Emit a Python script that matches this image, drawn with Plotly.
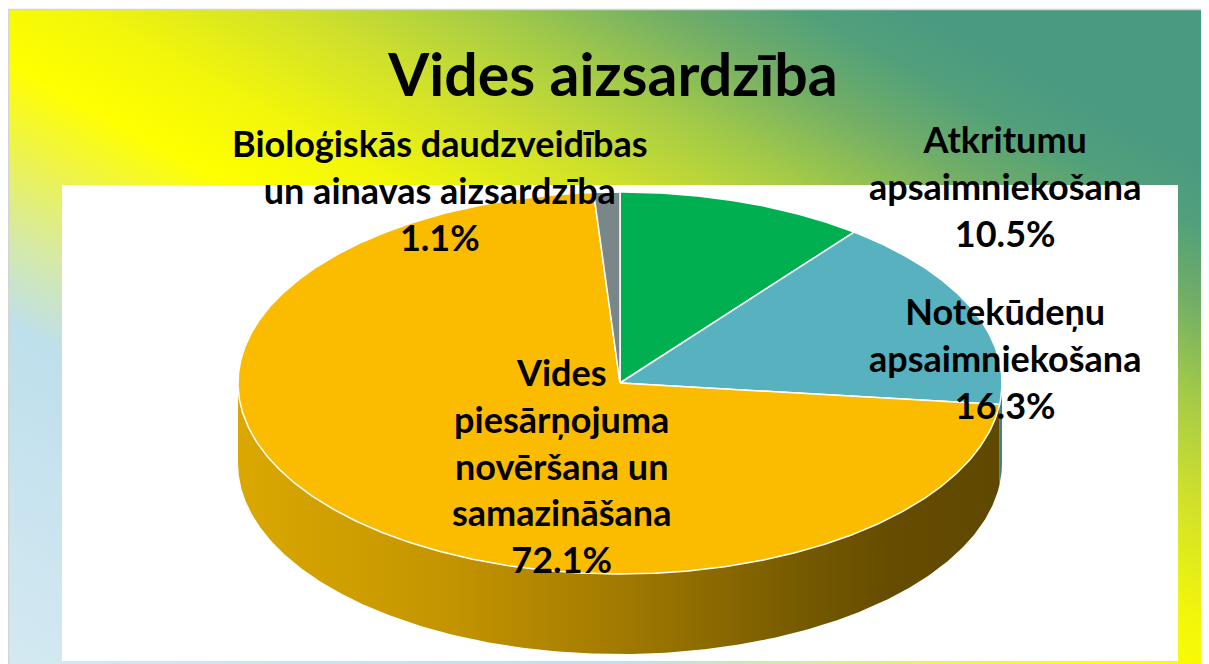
import base64
import numpy as np
import plotly.graph_objects as go

# ---------------- data ----------------
categories = [
    "Atkritumu apsaimniekošana",
    "Notekūdeņu apsaimniekošana",
    "Vides piesārņojuma novēršana un samazināšana",
    "Bioloģiskās daudzveidības un ainavas aizsardzība",
]
label_lines = [
    "Atkritumu<br>apsaimniekošana",
    "Notekūdeņu<br>apsaimniekošana",
    "Vides<br>piesārņojuma<br>novēršana un<br>samazināšana",
    "Bioloģiskās daudzveidības<br>un ainavas aizsardzība",
]
values = [10.5, 16.3, 72.1, 1.1]
title_text = "Vides aizsardzība"

# ---------------- style ----------------
top_colors = ["#00B050", "#57B1BE", "#FBBC00", "#7A8789"]
side_scales = [
    [[0, "#007A38"], [1, "#004F24"]],
    [[0, "#4F9AA4"], [1, "#3E7F88"]],
    [[0, "#DBA800"], [0.28, "#C39400"], [0.5, "#A27A00"],
     [0.7, "#7C5F00"], [0.85, "#664C00"], [1, "#5F4800"]],
    [[0, "#6A7678"], [1, "#505A5C"]],
]
label_pos = [(1005, 186), (1005, 358), (561, 465), (440, 190)]
FONT = "Lato"

OFF = 8                      # page offset of the figure (body margin)
W, H = 1201, 656             # figure size
CX, CY, RX, RY, DEPTH = 620, 383, 382, 191, 80


def ell(theta_deg, dy=0.0):
    t = np.radians(theta_deg)
    return CX + RX * np.sin(t), CY - RY * np.cos(t) + dy


total = sum(values)
bounds = np.concatenate([[0], np.cumsum(values)]) / total * 360.0

fig = go.Figure()

# side walls (visible front half: 90..270 degrees clockwise from top)
for i in range(len(values)):
    s = max(bounds[i], 90.0)
    e = min(bounds[i + 1], 270.0)
    if e <= s:
        continue
    n = max(3, int((e - s) * 2))
    th = np.linspace(s, e, n)
    xt, yt = ell(th)
    xb, yb = ell(th[::-1], DEPTH)
    xs = np.concatenate([xt, xb, xt[:1]])
    ys = np.concatenate([yt, yb, yt[:1]])
    fig.add_trace(go.Scatter(
        x=xs, y=ys, mode="lines", fill="toself",
        line=dict(width=0, color="rgba(0,0,0,0)"),
        fillgradient=dict(type="horizontal", colorscale=side_scales[i],
                          start=CX - RX, stop=CX + RX),
        hoverinfo="skip", showlegend=False,
    ))

# top faces
for i in range(len(values)):
    s, e = bounds[i], bounds[i + 1]
    n = max(3, int((e - s) * 2))
    th = np.linspace(s, e, n)
    xa, ya = ell(th)
    xs = np.concatenate([[CX], xa, [CX]])
    ys = np.concatenate([[CY], ya, [CY]])
    fig.add_trace(go.Scatter(
        x=xs, y=ys, mode="lines", fill="toself",
        fillcolor=top_colors[i],
        line=dict(width=1.5, color="white"),
        name=categories[i], text=f"{values[i] / total * 100:.1f}%",
        hoverinfo="name+text", showlegend=False,
    ))

# data labels
annotations = []
for i in range(len(values)):
    pct = values[i] / total * 100
    x, y = label_pos[i]
    annotations.append(dict(
        x=x, y=y, xref="x", yref="y", xanchor="center", yanchor="middle",
        text=f"{label_lines[i]}<br>{pct:.1f}%", showarrow=False, align="center",
        font=dict(family=FONT, size=36, color="black", weight="bold"),
    ))

# background gradient (slide)
stops = [
    (0.00, "#D4E9F2"), (0.26, "#BEDFEC"), (0.33, "#D6EAA4"), (0.40, "#EEF448"),
    (0.46, "#FFFF00"), (0.53, "#F2F60A"), (0.62, "#CFE02C"), (0.70, "#A2CA48"),
    (0.77, "#72AE66"), (0.83, "#52A07A"), (0.88, "#4A9A82"), (1.00, "#4A9A82"),
]
stop_xml = "".join(f'<stop offset="{o}" stop-color="{c}"/>' for o, c in stops)
svg = (
    '<svg xmlns="http://www.w3.org/2000/svg" width="1200" height="654" '
    'viewBox="0 0 1200 654" preserveAspectRatio="none">'
    f'<defs><linearGradient id="g" x1="0" y1="1" x2="1" y2="0">{stop_xml}</linearGradient></defs>'
    '<rect width="1200" height="654" fill="url(#g)"/></svg>'
)
src = "data:image/svg+xml;base64," + base64.b64encode(svg.encode()).decode()

fig.update_layout(
    width=W, height=H,
    margin=dict(l=0, r=0, t=0, b=0),
    paper_bgcolor="white",
    plot_bgcolor="rgba(0,0,0,0)",
    xaxis=dict(range=[OFF, OFF + W], visible=False, fixedrange=True),
    yaxis=dict(range=[OFF + H, OFF], visible=False, fixedrange=True),
    title=dict(text=title_text, x=(613 - OFF) / W, xanchor="center",
               y=1 - (75 - OFF) / H, yanchor="middle", yref="container",
               font=dict(family=FONT, size=59, color="black", weight="bold")),
    images=[dict(source=src, xref="paper", yref="paper",
                 x=(9 - OFF) / W, y=1 - (10 - OFF) / H,
                 sizex=1200 / W, sizey=654 / H,
                 xanchor="left", yanchor="top", sizing="stretch", layer="below")],
    shapes=[
        dict(type="rect", xref="x", yref="y", x0=62, x1=1178, y0=185, y1=661,
             fillcolor="white", line=dict(width=0), layer="below"),
        dict(type="line", xref="x", yref="y", x0=8, x1=1209, y0=9.5, y1=9.5,
             line=dict(color="#D4D4D4", width=1.5), layer="below"),
        dict(type="line", xref="x", yref="y", x0=8.5, x1=8.5, y0=9, y1=664,
             line=dict(color="#D4D4D4", width=1.5), layer="below"),
    ],
    annotations=annotations,
    hovermode="closest",
)

fig.write_html("out.html")
